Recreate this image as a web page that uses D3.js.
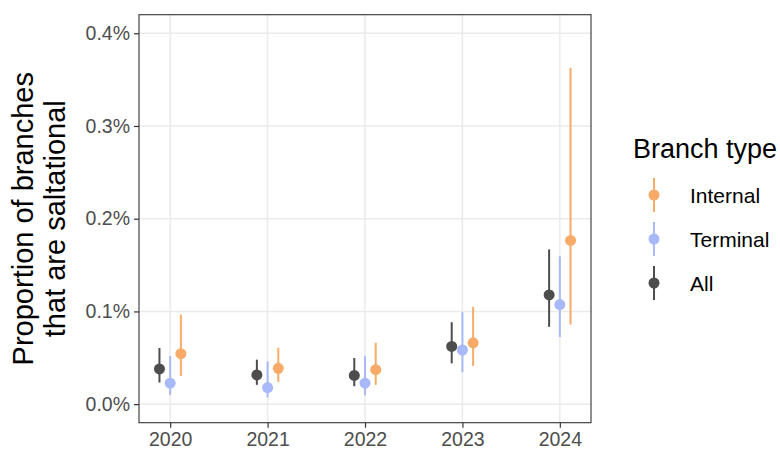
<!DOCTYPE html>
<html>
<head>
<meta charset="utf-8">
<script src="https://cdn.jsdelivr.net/npm/d3@7"></script>
<style>
  body { margin: 0; background: #fff; }
  text { font-family: "Liberation Sans", Arial, Helvetica, sans-serif; }
</style>
</head>
<body>
<svg id="chart" width="780" height="454"></svg>
<script>
// values in percent
var years = [2020, 2021, 2022, 2023, 2024];
var yTicks = [0, 0.1, 0.2, 0.3, 0.4];

var allEst = [0.038, 0.0315, 0.031, 0.0623, 0.1178];
var allLo  = [0.0233, 0.0208, 0.0193, 0.044, 0.0834];
var allHi  = [0.0605, 0.048, 0.0498, 0.0884, 0.1669];

var termEst = [0.0226, 0.0179, 0.0226, 0.0584, 0.1074];
var termLo  = [0.0097, 0.0072, 0.0097, 0.0344, 0.0724];
var termHi  = [0.0519, 0.0462, 0.0519, 0.0992, 0.1594];

var intEst = [0.0544, 0.0387, 0.0372, 0.0662, 0.1766];
var intLo  = [0.0304, 0.024, 0.0208, 0.0412, 0.086];
var intHi  = [0.0967, 0.0609, 0.0662, 0.105, 0.3628];

var series = [
  { name: "All", color: "#4D4D4D", offset: -0.11, est: allEst, lo: allLo, hi: allHi },
  { name: "Terminal", color: "#A7B9F8", offset: 0, est: termEst, lo: termLo, hi: termHi },
  { name: "Internal", color: "#F8AB68", offset: 0.11, est: intEst, lo: intLo, hi: intHi }
];
var legendOrder = ["Internal", "Terminal", "All"];

var panel = { left: 139, right: 591, top: 14.7, bottom: 422.7 };

var svg = d3.select("#chart");

var x = d3.scaleLinear().domain([2019.68, 2024.32]).range([panel.left, panel.right]);
var y = d3.scaleLinear().domain([-0.02, 0.42]).range([panel.bottom, panel.top]);

// grid
var grid = svg.append("g");
grid.selectAll(".gy").data(yTicks).enter().append("line")
    .attr("x1", panel.left).attr("x2", panel.right)
    .attr("y1", function(d) { return y(d); }).attr("y2", function(d) { return y(d); })
    .attr("stroke", "#EBEBEB").attr("stroke-width", 1.5);
grid.selectAll(".gx").data(years).enter().append("line")
    .attr("y1", panel.top).attr("y2", panel.bottom)
    .attr("x1", function(d) { return x(d); }).attr("x2", function(d) { return x(d); })
    .attr("stroke", "#EBEBEB").attr("stroke-width", 1.5);

// axes
var yAxis = svg.append("g")
    .attr("transform", "translate(" + panel.left + ",0)")
    .call(d3.axisLeft(y).tickValues(yTicks).tickSize(5).tickPadding(4)
      .tickFormat(function(d) { return d3.format(".1f")(d) + "%"; }));
var xAxis = svg.append("g")
    .attr("transform", "translate(0," + panel.bottom + ")")
    .call(d3.axisBottom(x).tickValues(years).tickSize(5).tickPadding(4)
      .tickFormat(d3.format("d")));
[yAxis, xAxis].forEach(function(a) {
  a.select(".domain").remove();
  a.selectAll(".tick line").attr("stroke", "#333333").attr("stroke-width", 1.2);
  a.selectAll(".tick text").attr("fill", "#4D4D4D").style("font-size", "19.5px");
});

// point ranges
series.forEach(function(s) {
  var g = svg.append("g");
  years.forEach(function(yr, i) {
    g.append("line")
      .attr("x1", x(yr + s.offset)).attr("x2", x(yr + s.offset))
      .attr("y1", y(s.lo[i])).attr("y2", y(s.hi[i]))
      .attr("stroke", s.color).attr("stroke-width", 2);
    g.append("circle")
      .attr("cx", x(yr + s.offset)).attr("cy", y(s.est[i]))
      .attr("r", 5.5).attr("fill", s.color);
  });
});

// panel border
svg.append("rect")
    .attr("x", panel.left).attr("y", panel.top)
    .attr("width", panel.right - panel.left).attr("height", panel.bottom - panel.top)
    .attr("fill", "none").attr("stroke", "#333333").attr("stroke-width", 1.1);

// y title
var yt = svg.append("text")
    .attr("transform", "translate(0," + ((panel.top + panel.bottom) / 2) + ") rotate(-90)")
    .attr("text-anchor", "middle").attr("fill", "#000")
    .style("font-size", "29px");
yt.append("tspan").attr("x", 0).attr("y", 33).text("Proportion of branches");
yt.append("tspan").attr("x", 0).attr("y", 65).text("that are saltational");

// legend
var leg = svg.append("g");
leg.append("text").attr("x", 633).attr("y", 158)
    .style("font-size", "27px").attr("fill", "#000").text("Branch type");
legendOrder.forEach(function(name, i) {
  var s = series.filter(function(d) { return d.name === name; })[0];
  var cy = 195 + i * 44;
  leg.append("line").attr("x1", 654).attr("x2", 654)
    .attr("y1", cy - 17).attr("y2", cy + 17)
    .attr("stroke", s.color).attr("stroke-width", 2);
  leg.append("circle").attr("cx", 654).attr("cy", cy).attr("r", 5.5).attr("fill", s.color);
  leg.append("text").attr("x", 690).attr("y", cy + 7.5)
    .style("font-size", "21px").attr("fill", "#000").text(name);
});
</script>
</body>
</html>
